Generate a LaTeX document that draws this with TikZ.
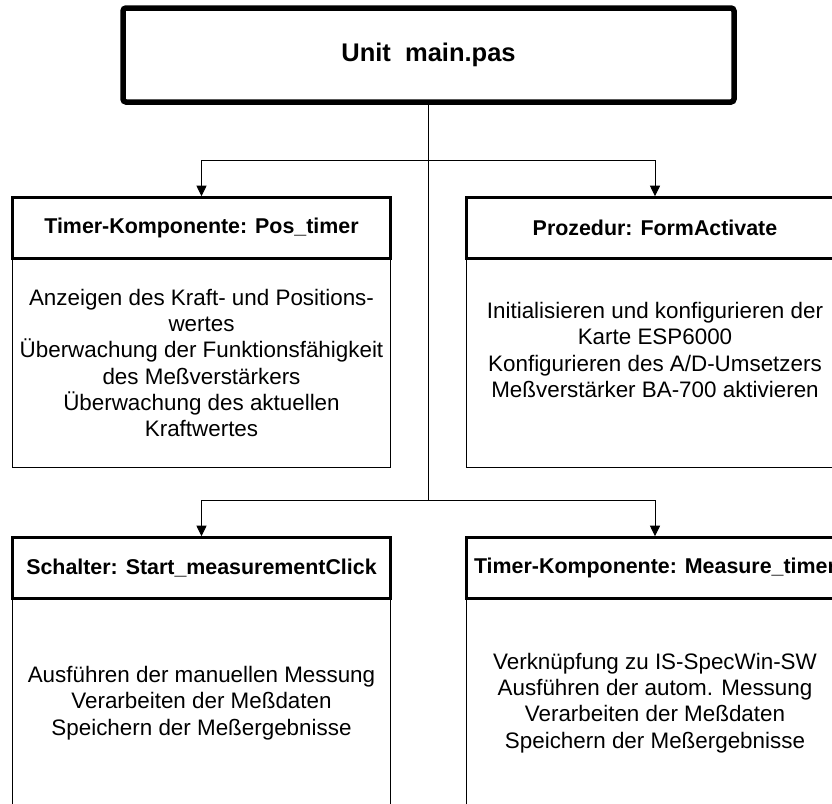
\documentclass[tikz,border=0pt]{standalone}
\usepackage{fontspec}
\setmainfont{Liberation Sans}
\usetikzlibrary{arrows.meta}
\begin{document}
\begin{tikzpicture}[x=1pt,y=-1pt,
  topbox/.style={draw, line width=5.5pt, rounded corners=3pt, minimum width=611pt, minimum height=94pt, inner sep=0pt, font=\fontsize{25.5}{30}\selectfont\bfseries},
  headbox/.style={draw, line width=3pt, minimum width=378pt, minimum height=61pt, inner sep=0pt, font=\fontsize{21.4}{25}\selectfont\bfseries},
  bodybox/.style={draw, line width=1pt, minimum width=378pt, minimum height=208pt, inner sep=0pt, align=center, font=\fontsize{22.4}{26.2}\selectfont},
  conn/.style={line width=1pt},
  arr/.style={conn, -{Triangle[length=10.5pt,width=10pt]}}
]
\useasboundingbox (0,0) rectangle (832,803);
\clip (0,0) rectangle (832,803);

\node[topbox] (top) at (428.5,55) {Unit\ \ main.pas};

% first row
\node[bodybox] (b1) at (201.5,363) {Anzeigen des Kraft- und Positions-\\wertes\\Überwachung der Funktionsfähigkeit\\des Meßverstärkers\\Überwachung des aktuellen\\Kraftwertes};
\node[headbox] (h1) at (201.5,228.2) {Timer-Komponente: Pos\_timer};
\node[bodybox] (b2) at (655,363) {Initialisieren und konfigurieren der\\Karte ESP6000\\Konfigurieren des A/D-Umsetzers\\Meßverstärker BA-700 aktivieren\\~};
\node[headbox] (h2) at (655,228.2) {Prozedur: FormActivate};

% second row
\node[bodybox] (b3) at (201.5,703) {Ausführen der manuellen Messung\\Verarbeiten der Meßdaten\\Speichern der Meßergebnisse};
\node[headbox] (h3) at (201.5,568.2) {Schalter: Start\_measurementClick};
\node[bodybox] (b4) at (655,703) {Verknüpfung zu IS-SpecWin-SW\\Ausführen der autom. Messung\\Verarbeiten der Meßdaten\\Speichern der Meßergebnisse};
\node[headbox] (h4) at (655,568.2) {Timer-Komponente: Measure\_timer};

% junctions
\coordinate (j1) at (428.5,160);
\coordinate (j2) at (428.5,500);

\draw[conn] (top.south) -- (j2);
\draw[arr] (j1) -| (h1.north);
\draw[arr] (j1) -| (h2.north);
\draw[arr] (j2) -| (h3.north);
\draw[arr] (j2) -| (h4.north);
\end{tikzpicture}
\end{document}
